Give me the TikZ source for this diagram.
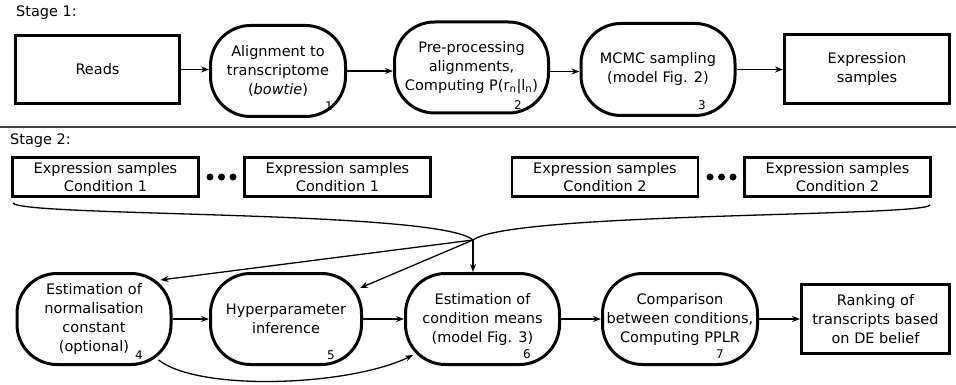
\documentclass[tikz,border=0pt]{standalone}
\usepackage{fontspec}
\setmainfont{DejaVu Sans}
\usetikzlibrary{arrows.meta,calc}
\definecolor{sepgray}{HTML}{404040}
\begin{document}
\begin{tikzpicture}[x=1pt,y=-1pt,
  lbl/.style={font=\fontsize{14.5}{19}\selectfont, inner sep=0pt},
  rectbox/.style={draw, line width=3pt, align=center, inner sep=0pt, font=\fontsize{14.5}{19}\selectfont},
  condbox/.style={draw, line width=2.5pt, align=center, inner sep=0pt, minimum width=186pt, minimum height=39pt, font=\fontsize{14.5}{18.5}\selectfont},
  roundbox/.style={draw, line width=3pt, rounded corners=40pt, align=center, inner sep=0pt, minimum width=154pt, minimum height=91pt, font=\fontsize{14.5}{19}\selectfont},
  numlbl/.style={font=\fontsize{12}{13}\selectfont, inner sep=0pt},
  arr/.style={-{Stealth[length=8pt,width=6pt]}, line width=1.3pt},
  curve/.style={line width=1.3pt},
  dot/.style={circle, fill=black, inner sep=0pt, minimum size=7pt}]
\useasboundingbox (0,0) rectangle (956,385);
\fill[white] (0,0) rectangle (956,385);

% Stage 1
\node[lbl, anchor=west] (s1) at (16,13) {Stage 1:};
\node[rectbox, minimum width=164pt, minimum height=68pt] (reads) at (97.5,69.5) {Reads};
\node[roundbox, minimum width=135pt] (align) at (278,71) {Alignment to\\transcriptome\\(\textit{bowtie})};
\node[roundbox] (pre) at (471.5,67.5) {Pre-processing\\alignments,\\Computing P(r\textsubscript{n}|l\textsubscript{n})};
\node[roundbox, minimum height=92pt] (mcmc) at (658,69.5) {MCMC sampling\\(model Fig. 2)};
\node[rectbox, minimum width=165pt, minimum height=69pt] (expr) at (867,69) {Expression\\samples};

\node[numlbl] (n1) at (329,106) {1};
\node[numlbl] (n2) at (518,105) {2};
\node[numlbl] (n3) at (702,105) {3};

\draw[arr] (reads.east) -- (reads.east -| align.west);
\draw[arr] (align.east) -- (align.east -| pre.west);
\draw[arr] ([yshift=-4pt]pre.east) -- ([yshift=-4pt]pre.east -| mcmc.west);
\draw[arr] (mcmc.east) -- (mcmc.east -| expr.west);

% separator
\coordinate (sl) at (0,127.5);
\coordinate (sr) at (956,127.5);
\draw[line width=2pt, sepgray] (sl) -- (sr);

% Stage 2
\node[lbl, anchor=west] (s2) at (10,141) {Stage 2:};
\node[condbox] (c1a) at (105.5,177) {Expression samples\\Condition 1};
\node[condbox] (c1b) at (337.5,177) {Expression samples\\Condition 1};
\node[condbox] (c2a) at (605,177) {Expression samples\\Condition 2};
\node[condbox] (c2b) at (837.5,177) {Expression samples\\Condition 2};
\node[dot] (d1) at (210,177) {};
\node[dot] (d2) at (221.5,177) {};
\node[dot] (d3) at (233,177) {};
\node[dot] (d4) at (710,177) {};
\node[dot] (d5) at (721.5,177) {};
\node[dot] (d6) at (733,177) {};

\coordinate (j) at (473,240);
\coordinate (lc) at (13,203);
\coordinate (rc) at (930,205);
\draw[curve] (lc) .. controls (20,217) and (440,210) .. (j);
\draw[curve] (rc) .. controls (924,217) and (510,212) .. (j);

\node[roundbox] (estnorm) at (94,319) {Estimation of\\normalisation\\constant\\(optional)};
\node[roundbox, minimum width=151pt] (hyper) at (286,319) {Hyperparameter\\inference};
\node[roundbox] (estcond) at (482.5,319) {Estimation of\\condition means\\(model Fig. 3)};
\node[roundbox, minimum width=155pt] (comp) at (680,319) {Comparison\\between conditions,\\Computing PPLR};
\node[rectbox, minimum width=148pt, minimum height=69pt] (rank) at (875.5,319) {Ranking of\\transcripts based\\on DE belief};

\node[numlbl] (n4) at (139,355) {4};
\node[numlbl] (n5) at (331,355) {5};
\node[numlbl] (n6) at (527,354) {6};
\node[numlbl] (n7) at (720,354) {7};

\draw[arr] (j) -- ($(estnorm.north east)+(-12,8)$);
\draw[arr] (j) -- ($(hyper.north east)+(-3,16)$);
\draw[arr] (j) -- (j |- estcond.north);

\draw[arr] (estnorm.east) -- (hyper.west);
\draw[arr] (hyper.east) -- (estcond.west);
\draw[arr] (estcond.east) -- (comp.west);
\draw[arr] (comp.east) -- (rank.west);

\draw[arr] ($(estnorm.south east)+(-14,-6)$) .. controls (200,392) and (350,386) .. ($(estcond.south west)+(9,-11)$);
\end{tikzpicture}
\end{document}
